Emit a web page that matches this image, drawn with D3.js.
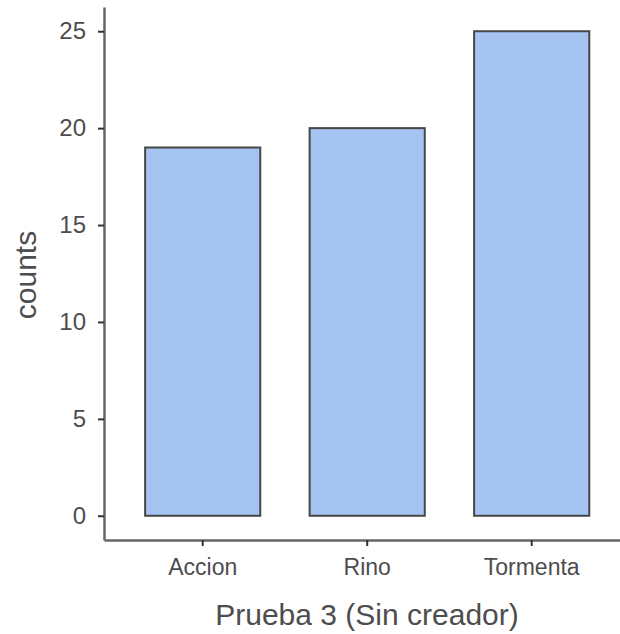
<!DOCTYPE html>
<html><head><meta charset="utf-8">
<script src="https://cdn.jsdelivr.net/npm/d3@7"></script>
<style>html,body{margin:0;padding:0;background:#fff;}</style>
</head><body>
<svg id="c" width="620" height="634"></svg>
<script>
const categories = ["Accion", "Rino", "Tormenta"];
const counts = [19, 20, 25];
const yTicks = [0, 5, 10, 15, 20, 25];
const xTitle = "Prueba 3 (Sin creador)";
const yTitle = "counts";

const svg = d3.select("#c");
const font = "Liberation Sans, Arial, sans-serif";
const x = d3.scaleBand().domain(categories).range([104, 630.4]).paddingInner(0.3).paddingOuter(0.25);
const y = d3.scaleLinear().domain([-1.25, 26.25]).range([540, 7]);

svg.selectAll("rect.bar").data(categories).enter().append("rect")
  .attr("class","bar")
  .attr("x", d => x(d))
  .attr("width", x.bandwidth())
  .attr("y", (d,i) => y(counts[i]))
  .attr("height", (d,i) => y(0) - y(counts[i]))
  .attr("fill", "#a6c4f2")
  .attr("stroke", "#474747")
  .attr("stroke-width", 2);

const yAxis = svg.append("g").attr("transform","translate(104,0)")
  .call(d3.axisLeft(y).tickValues(yTicks).tickSize(6).tickPadding(12).tickSizeOuter(0));
const xAxis = svg.append("g").attr("transform","translate(0,540)")
  .call(d3.axisBottom(x).tickSize(6).tickPadding(13).tickSizeOuter(0));

[yAxis, xAxis].forEach(g => {
  g.select(".domain").attr("stroke","#666").attr("stroke-width",2.5);
  g.selectAll(".tick line").attr("stroke","#333").attr("stroke-width",2);
  g.selectAll(".tick text").attr("fill","#4d4d4d").style("font-family",font);
});
yAxis.selectAll(".tick text").style("font-size","24px");
xAxis.selectAll(".tick text").style("font-size","23px");

svg.append("text").attr("x", 367).attr("y", 625).attr("text-anchor","middle")
  .style("font-family",font).style("font-size","30px").attr("fill","#4d4d4d").text(xTitle);
svg.append("text").attr("transform","translate(36,275) rotate(-90)").attr("text-anchor","middle")
  .style("font-family",font).style("font-size","30px").attr("fill","#4d4d4d").text(yTitle);
</script>
</body></html>
